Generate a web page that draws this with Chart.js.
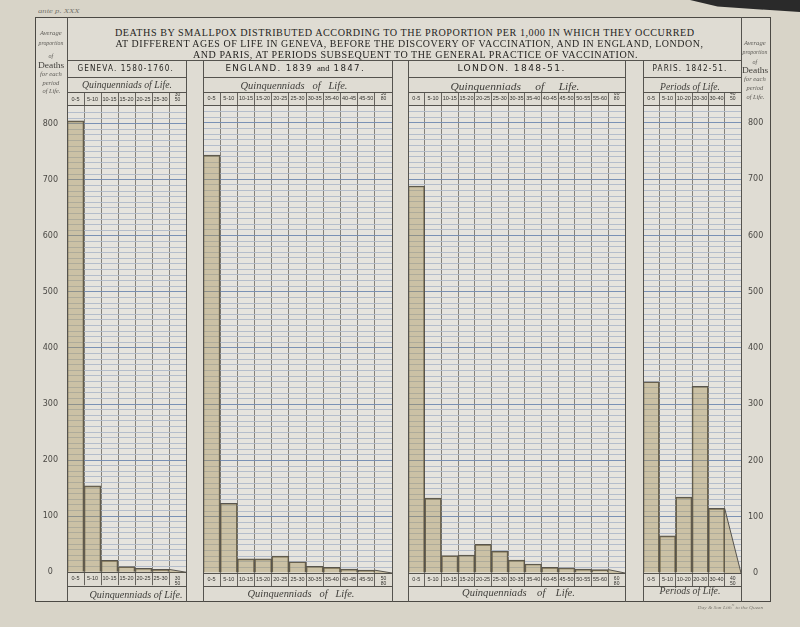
<!DOCTYPE html>
<html>
<head>
<meta charset="utf-8">
<script src="https://cdn.jsdelivr.net/npm/chart.js@4.4.1/dist/chart.umd.min.js"></script>
<style>
  body { margin: 0; width: 800px; height: 627px; background: #d8d4c8; position: relative; overflow: hidden; }
  .box { position: absolute; box-sizing: border-box; }
  .ln { position: absolute; background: #55534e; }
  .txt { position: absolute; white-space: nowrap; line-height: 1; transform-origin: center center; }
  canvas { position: absolute; }
</style>
</head>
<body>
<div class="box" style="left:690px;top:0;width:110px;height:12px;background:#2a2a2a;clip-path:polygon(0 0,100% 0,100% 100%,25% 55%)"></div>
<div class="box" style="left:35px;top:17px;width:736px;height:585px;border:1px solid #4b4944;background:#dfdcd3"></div>

<canvas id="geneva" width="151" height="494" style="left:35px;top:92px"></canvas>
<canvas id="england" width="189" height="494" style="left:203px;top:92px"></canvas>
<canvas id="london" width="217" height="494" style="left:408px;top:92px"></canvas>
<canvas id="paris" width="127" height="494" style="left:643px;top:92px"></canvas>

<script>
// values per 1,000 deaths
const genevaAges = ['0-5', '5-10', '10-15', '15-20', '20-25', '25-30', ['30', '50']];
const genevaDeaths = [805, 154, 21, 10, 7, 5, null];

const englandAges = ['0-5', '5-10', '10-15', '15-20', '20-25', '25-30', '30-35', '35-40', '40-45', '45-50', ['50', '80']];
const englandDeaths = [743, 124, 25, 25, 30, 20, 12, 10, 7, 5, null];

const londonAges = ['0-5', '5-10', '10-15', '15-20', '20-25', '25-30', '30-35', '35-40', '40-45', '45-50', '50-55', '55-60', ['60', '80']];
const londonDeaths = [688, 133, 31, 32, 51, 39, 23, 16, 10, 9, 7, 6, null];

const parisAges = ['0-5', '5-10', '10-20', '20-30', '30-40', ['40', '50']];
const parisDeaths = [340, 66, 135, 332, 115, null];

const yLabels = [0, 100, 200, 300, 400, 500, 600, 700, 800];

const tan = 'rgba(168,145,85,0.42)';
const ink = '#57544d';

// light paper behind the ruled area
const paperPlugin = {
    id: 'paper',
    beforeDraw(chart) {
        const a = chart.chartArea;
        chart.ctx.save();
        chart.ctx.fillStyle = '#e6e4de';
        chart.ctx.fillRect(a.left, a.top, a.right - a.left, a.bottom - a.top);
        chart.ctx.restore();
    }
};

// last column: sloping line from the previous value down to nothing
const tailPlugin = {
    id: 'tail',
    afterDatasetsDraw(chart) {
        const data = chart.data.datasets[0].data;
        const n = data.length;
        const xs = chart.scales.x, ys = chart.scales.y;
        const w = xs.getPixelForValue(1) - xs.getPixelForValue(0);
        const left = xs.getPixelForValue(n - 1) - w / 2;
        const right = left + w;
        const top = ys.getPixelForValue(data[n - 2]);
        const zero = ys.getPixelForValue(0);
        const ctx = chart.ctx;
        ctx.save();
        ctx.fillStyle = tan;
        ctx.beginPath();
        ctx.moveTo(left, top);
        ctx.lineTo(right, zero);
        ctx.lineTo(left, zero);
        ctx.closePath();
        ctx.fill();
        ctx.strokeStyle = ink;
        ctx.lineWidth = 1;
        ctx.beginPath();
        ctx.moveTo(left, top);
        ctx.lineTo(right, zero);
        ctx.stroke();
        ctx.restore();
    }
};

function ageFont(c) {
    const lab = c.tick && c.tick.label;
    return Array.isArray(lab)
        ? { family: 'Liberation Sans', size: 5, lineHeight: 1 }
        : { family: 'Liberation Sans', size: 5.5, lineHeight: 1 };
}

function makePanel(id, ages, deaths, side) {
    const axisWidth = side === 'left' ? 32 : (side === 'right' ? 29 : 0);
    const ageTicks = {
        autoSkip: false, maxRotation: 0, minRotation: 0,
        padding: -9.5, color: '#34332f', font: ageFont
    };
    new Chart(document.getElementById(id), {
        type: 'bar',
        data: {
            labels: ages,
            datasets: [{
                data: deaths,
                backgroundColor: tan,
                borderColor: ink,
                borderWidth: 1,
                borderSkipped: 'bottom',
                barPercentage: 1,
                categoryPercentage: 1
            }]
        },
        options: {
            responsive: false,
            animation: false,
            layout: { padding: 0 },
            plugins: { legend: { display: false }, tooltip: { enabled: false } },
            scales: {
                x: {
                    position: 'bottom',
                    offset: true,
                    grid: { offset: true, color: '#85827b', tickColor: '#66635d', tickLength: 13, lineWidth: 1 },
                    border: { color: '#55534e', width: 1 },
                    ticks: ageTicks,
                    afterFit: s => { s.height = 13; }
                },
                x2: {
                    type: 'category',
                    labels: ages,
                    position: 'top',
                    offset: true,
                    grid: { offset: true, drawOnChartArea: false, tickColor: '#66635d', tickLength: 13 },
                    border: { color: '#55534e', width: 1 },
                    ticks: ageTicks,
                    afterFit: s => { s.height = 13; }
                },
                y: {
                    position: side === 'right' ? 'right' : 'left',
                    min: 0,
                    max: 832,
                    grid: {
                        drawTicks: false,
                        lineWidth: 1,
                        color: c => (c.tick && c.tick.value % 100 === 0) ? '#7a91b5' : '#b4bdcb'
                    },
                    border: { display: false },
                    ticks: {
                        display: side !== 'none',
                        stepSize: 10,
                        maxTicksLimit: 200,
                        autoSkip: false,
                        crossAlign: 'center',
                        padding: side === 'right' ? 7 : 9,
                        color: '#4a4844',
                        font: { family: 'DejaVu Sans', size: 8 },
                        callback: v => yLabels.includes(v) ? String(v) : ''
                    },
                    afterFit: s => { s.width = axisWidth; }
                }
            }
        },
        plugins: [paperPlugin, tailPlugin]
    });
}

makePanel('geneva', genevaAges, genevaDeaths, 'left');
makePanel('england', englandAges, englandDeaths, 'none');
makePanel('london', londonAges, londonDeaths, 'none');
makePanel('paris', parisAges, parisDeaths, 'right');

// ruling of the plate
function hline(x1, x2, y) {
    const d = document.createElement('div');
    d.className = 'ln';
    d.style.cssText = `left:${x1}px;top:${y}px;width:${x2 - x1}px;height:1px`;
    document.body.appendChild(d);
}
function vline(x, y1, y2) {
    const d = document.createElement('div');
    d.className = 'ln';
    d.style.cssText = `left:${x}px;top:${y1}px;width:1px;height:${y2 - y1}px`;
    document.body.appendChild(d);
}
vline(67, 17, 602);
vline(741, 17, 602);
hline(67, 741, 60);
const panels = [[67, 186], [203, 392], [408, 625], [643, 741]];
panels.forEach(([l, r]) => {
    vline(l, 60, 602);
    vline(r, 60, 602);
    [77, 92, 586].forEach(y => hline(l, r, y));
});

function put(html, cx, cy, w, css) {
    const d = document.createElement('div');
    d.className = 'txt';
    d.style.cssText = css;
    d.innerHTML = html;
    document.body.appendChild(d);
    const nw = d.offsetWidth, nh = d.offsetHeight;
    d.style.left = (cx - nw / 2) + 'px';
    d.style.top = (cy - nh / 2) + 'px';
    if (w) d.style.transform = `scaleX(${w / nw})`;
}

const titleCss = 'font-family:"Liberation Serif";font-size:11px;color:#262522;letter-spacing:0.6px';
put('DEATHS BY SMALLPOX DISTRIBUTED ACCORDING TO THE PROPORTION PER 1,000 IN WHICH THEY OCCURRED', 405, 32, 580, titleCss);
put('AT DIFFERENT AGES OF LIFE IN GENEVA, BEFORE THE DISCOVERY OF VACCINATION, AND IN ENGLAND, LONDON,', 409, 43, 588, titleCss);
put('AND PARIS, AT PERIODS SUBSEQUENT TO THE GENERAL PRACTICE OF VACCINATION.', 415, 54, 445, titleCss);

const nameCss = 'font-family:"DejaVu Sans";font-size:8px;color:#262522;letter-spacing:1.2px';
put('GENEVA. 1580-1760.', 125, 69, 96, nameCss);
put('ENGLAND. 1839 <span style="font-family:Liberation Serif;font-size:8px;letter-spacing:0">and</span> 1847.', 295, 69, 140, nameCss);
put('LONDON. 1848-51.', 511, 69, 108, nameCss);
put('PARIS. 1842-51.', 690, 69, 75, nameCss);

const lifeCss = 'font-family:"Liberation Serif";font-style:italic;font-size:10px;color:#3f3e3a';
put('Quinquenniads of Life.', 127, 85, 90, lifeCss);
put('Quinquenniads&nbsp;&nbsp; of&nbsp;&nbsp; Life.', 294, 86, 107, lifeCss);
put('Quinquenniads&nbsp;&nbsp;&nbsp;&nbsp; of&nbsp;&nbsp;&nbsp;&nbsp; Life.', 515, 87, 129, lifeCss);
put('Periods of Life.', 690, 87, 60, lifeCss);
put('Quinquenniads of Life.', 136, 595, 93, lifeCss);
put('Quinquenniads&nbsp;&nbsp; of&nbsp;&nbsp; Life.', 301, 594, 107, lifeCss);
put('Quinquenniads&nbsp;&nbsp;&nbsp; of&nbsp;&nbsp;&nbsp; Life.', 518, 593, 113, lifeCss);
put('Periods of Life.', 690, 591, 61, lifeCss);

const sideCss = 'font-family:"Liberation Serif";font-style:italic;font-size:6px;color:#5e5c57';
const deathsCss = 'font-family:"Liberation Serif";font-size:8px;color:#45433f';
[[51, [33, 43, 56, 66, 74, 83, 91]], [755, [43, 52, 62, 71, 79, 88, 97]]].forEach(([cx, ys]) => {
    put('Average', cx, ys[0], 22, sideCss);
    put('proportion', cx, ys[1], 25, sideCss);
    put('of', cx, ys[2], 0, sideCss);
    put('Deaths', cx, ys[3], 26, deathsCss);
    put('for each', cx, ys[4], 22, sideCss);
    put('period', cx, ys[5], 17, sideCss);
    put('of Life.', cx, ys[6], 18, sideCss);
});

put('ante p. XXX', 59, 11, 42, 'font-family:"Liberation Serif";font-style:italic;font-size:7px;color:#77746d');
put('Day &amp; Son Lith<sup style="font-size:3px">rs</sup> to the Queen', 730, 607, 66, 'font-family:"Liberation Serif";font-style:italic;font-size:5px;color:#7a776f');
</script>
</body>
</html>
